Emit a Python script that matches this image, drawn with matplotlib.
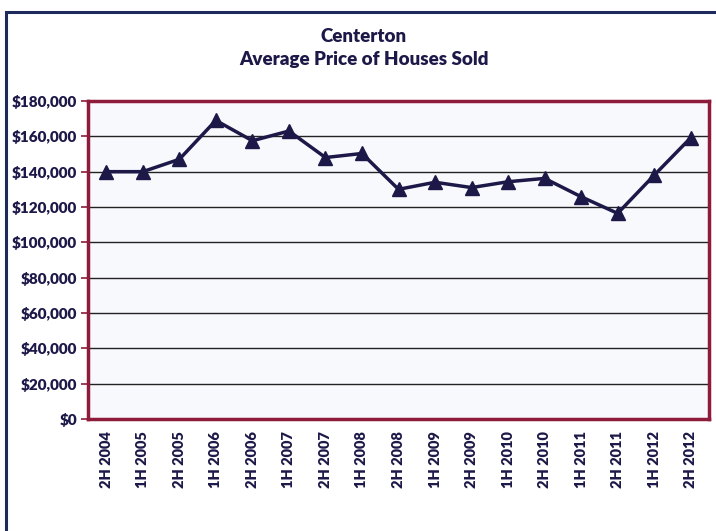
import matplotlib
matplotlib.use('Agg')
import matplotlib.pyplot as plt
from matplotlib.patches import Rectangle
from matplotlib.ticker import FuncFormatter

# Half-year periods and average sale price (USD)
periods = ['2H 2004', '1H 2005', '2H 2005', '1H 2006', '2H 2006', '1H 2007',
           '2H 2007', '1H 2008', '2H 2008', '1H 2009', '2H 2009', '1H 2010',
           '2H 2010', '1H 2011', '2H 2011', '1H 2012', '2H 2012']
avg_price = [140000, 140000, 147000, 169000, 157500, 163000, 148000, 150300,
             130000, 134000, 131000, 134300, 136200, 125800, 116400, 138000,
             159200]

navy = '#1c1848'
frame_red = '#8e1b3a'

plt.rcParams['font.family'] = ['Lato', 'DejaVu Sans']

fig = plt.figure(figsize=(7.16, 5.31), dpi=100)
fig.patch.set_facecolor('white')

# outer chart frame (right/bottom edges run off the canvas)
fig.patches.append(Rectangle((6 / 716, -0.05), 1.2, (531 - 12) / 531 + 0.05,
                             transform=fig.transFigure, fill=False,
                             edgecolor='#1f2a5c', linewidth=2.2))

ax = fig.add_axes([88 / 716, 1 - 419 / 531, (709 - 88) / 716, (419 - 101) / 531])
ax.set_facecolor('#f8f9fd')

x = list(range(len(periods)))
ax.plot(x, avg_price, color=navy, linewidth=2.5, marker='^', markersize=10,
        markerfacecolor=navy, markeredgecolor=navy, zorder=3)

ax.set_xlim(-0.5, len(periods) - 0.5)
ax.set_ylim(0, 180000)
ax.set_yticks(range(0, 180001, 20000))
ax.yaxis.set_major_formatter(FuncFormatter(lambda v, p: '${:,.0f}'.format(v)))
ax.grid(axis='y', color='#222222', linewidth=1.0)
ax.set_axisbelow(True)

ax.set_xticks(x)
ax.set_xticklabels(periods, rotation=90)

for s in ax.spines.values():
    s.set_color(frame_red)
    s.set_linewidth(2.5)

ax.tick_params(axis='y', colors=frame_red, length=5, width=1.2, labelcolor=navy,
               labelsize=11, pad=3)
ax.tick_params(axis='x', length=0, labelcolor=navy, labelsize=10.5, pad=9)
for lbl in ax.get_yticklabels() + ax.get_xticklabels():
    lbl.set_fontweight('heavy')

fig.text(364 / 716, 1 - 36 / 531, 'Centerton', ha='center', va='center',
         fontsize=13.5, fontweight='heavy', color=navy)
fig.text(364 / 716, 1 - 60 / 531, 'Average Price of Houses Sold', ha='center',
         va='center', fontsize=13.5, fontweight='heavy', color=navy)

fig.savefig('out.png', dpi=100)
